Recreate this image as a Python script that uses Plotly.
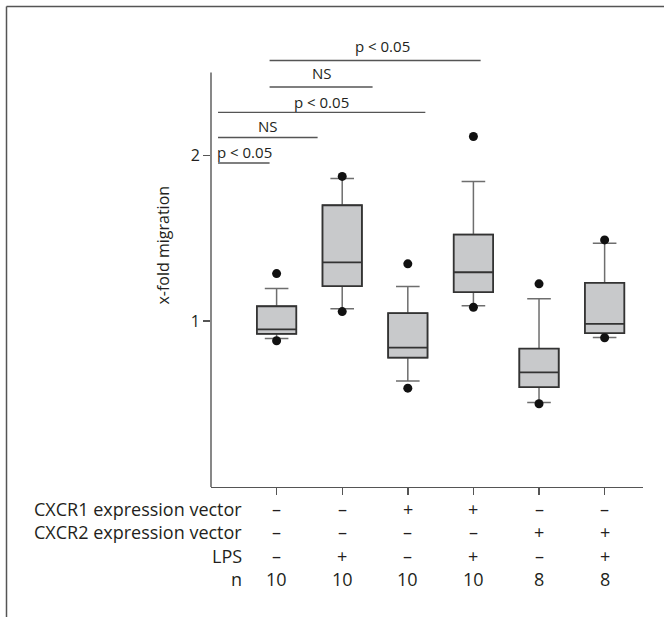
import plotly.graph_objects as go

# ---- data ----
groups = [0, 1, 2, 3, 4, 5]
q1 = [0.924, 1.211, 0.780, 1.175, 0.602, 0.928]
median = [0.950, 1.355, 0.840, 1.295, 0.691, 0.984]
q3 = [1.090, 1.699, 1.048, 1.522, 0.834, 1.231]
lowerfence = [0.896, 1.075, 0.639, 1.093, 0.510, 0.902]
upperfence = [1.197, 1.860, 1.209, 1.842, 1.135, 1.470]
outlier_x = [0, 0, 1, 1, 2, 2, 3, 3, 4, 4, 5, 5]
outlier_y = [1.287, 0.882, 1.873, 1.058, 1.346, 0.596, 2.114, 1.084, 1.225, 0.502, 1.490, 0.900]

row_labels = ["CXCR1 expression vector", "CXCR2 expression vector", "LPS", "n"]
cxcr1 = ["–", "–", "+", "+", "–", "–"]
cxcr2 = ["–", "–", "–", "–", "+", "+"]
lps = ["–", "+", "–", "+", "–", "+"]
n_vals = ["10", "10", "10", "10", "8", "8"]

# significance bars
sig_x0 = [-0.893, -0.893, -0.893, -0.107, -0.107]
sig_x1 = [-0.107, 0.625, 2.267, 1.463, 3.11]
sig_y = [1.954, 2.108, 2.259, 2.412, 2.572]
sig_text = ["p < 0.05", "NS", "p < 0.05", "NS", "p < 0.05"]
sig_tx = [-0.497, -0.131, 0.6875, 0.692, 1.617]
sig_ty = [2.018, 2.175, 2.323, 2.498, 2.657]

y_ticks = [1, 2]
Y_MAX = 2.75
Y_AXIS_TOP = 2.5
X_RANGE = [-1.0, 5.585]

# ---- layout geometry ----
W, H = 664, 617
ML, MR, MT, MB = 211, 21, 31, 130
PW = W - ML - MR
PH = H - MT - MB
PLOT_BOTTOM = H - MB

def px_to_paper_y(p):
    return (PLOT_BOTTOM - p) / PH

def px_to_paper_x(p):
    return (p - ML) / PW

TXT = "#231f20"
FONT = "Open Sans"
FS = 16
FS_TABLE = 18
FS_SIG = 15
AXC = "#555555"

fig = go.Figure()
for i, g in enumerate(groups):
    fig.add_trace(go.Box(
        x=[g], q1=[q1[i]], median=[median[i]], q3=[q3[i]],
        lowerfence=[lowerfence[i]], upperfence=[upperfence[i]],
        width=0.6, whiskerwidth=0.6, boxpoints=False,
        fillcolor="#c8c9cb", line=dict(color="#6e6e6e", width=1.5),
        showlegend=False, hoverinfo="skip"))
    fig.add_trace(go.Box(
        x=[g], q1=[q1[i]], median=[median[i]], q3=[q3[i]],
        lowerfence=[q1[i]], upperfence=[q3[i]],
        width=0.6, whiskerwidth=0.6, boxpoints=False,
        fillcolor="#c8c9cb", line=dict(color="#333333", width=1.8),
        showlegend=False, hoverinfo="skip"))

fig.add_trace(go.Scatter(
    x=outlier_x, y=outlier_y, mode="markers",
    marker=dict(color="#111111", size=9), showlegend=False, hoverinfo="skip"))

shapes = []
for x0, x1, y in zip(sig_x0, sig_x1, sig_y):
    shapes.append(dict(type="line", xref="x", yref="y", x0=x0, x1=x1, y0=y, y1=y,
                       line=dict(color=AXC, width=1.4)))
shapes.append(dict(type="line", xref="paper", yref="paper", x0=0, x1=0,
                   y0=0, y1=Y_AXIS_TOP / Y_MAX, line=dict(color=AXC, width=1.4)))
# outer frame (top and left only)
fx0 = px_to_paper_x(6.5)
fy_top = px_to_paper_y(6.5)
shapes.append(dict(type="line", xref="paper", yref="paper", x0=fx0, x1=px_to_paper_x(664),
                   y0=fy_top, y1=fy_top, line=dict(color=AXC, width=1.5)))
shapes.append(dict(type="line", xref="paper", yref="paper", x0=fx0, x1=fx0,
                   y0=fy_top, y1=px_to_paper_y(617), line=dict(color=AXC, width=1.5)))

annotations = []
for t, tx, ty in zip(sig_text, sig_tx, sig_ty):
    annotations.append(dict(x=tx, y=ty, xref="x", yref="y", text=t, showarrow=False,
                            font=dict(family=FONT, size=FS_SIG, color=TXT),
                            xanchor="center", yanchor="middle"))

annotations.append(dict(x=px_to_paper_x(163), y=1.456, xref="paper", yref="y",
                        text="x-fold migration", textangle=-90, showarrow=False,
                        font=dict(family=FONT, size=FS, color=TXT),
                        xanchor="center", yanchor="middle"))

row_px = [509, 531.5, 556, 579]
rows = [cxcr1, cxcr2, lps, n_vals]
for lbl, vals, rp in zip(row_labels, rows, row_px):
    yp = px_to_paper_y(rp)
    annotations.append(dict(x=px_to_paper_x(244), y=yp, xref="paper", yref="paper",
                            text=lbl, showarrow=False, xanchor="right", yanchor="middle",
                            font=dict(family=FONT, size=FS_TABLE, color=TXT)))
    for g, v in zip(groups, vals):
        annotations.append(dict(x=g, y=yp, xref="x", yref="paper", text=v,
                                showarrow=False, xanchor="center", yanchor="middle",
                                font=dict(family=FONT, size=FS_TABLE, color=TXT)))

fig.update_layout(
    width=W, height=H,
    margin=dict(l=ML, r=MR, t=MT, b=MB, pad=0),
    paper_bgcolor="white", plot_bgcolor="white",
    boxmode="overlay",
    shapes=shapes, annotations=annotations,
    xaxis=dict(range=X_RANGE, tickvals=groups, ticktext=[""] * len(groups),
               ticks="outside", ticklen=7, tickwidth=1.4, tickcolor=AXC,
               showline=True, linecolor=AXC, linewidth=1.4,
               showgrid=False, zeroline=False, fixedrange=True),
    yaxis=dict(range=[0, Y_MAX], tickvals=y_ticks, ticktext=[str(v) for v in y_ticks],
               ticks="outside", ticklen=7, tickwidth=1.4, tickcolor=AXC,
               showline=False, showgrid=False, zeroline=False, fixedrange=True,
               tickfont=dict(family=FONT, size=FS, color=TXT), ticklabelstandoff=0),
    font=dict(family=FONT, size=FS, color=TXT),
)

fig.write_html("out.html", config={"displayModeBar": False, "staticPlot": True},
               post_script="document.body.style.margin='0';")
